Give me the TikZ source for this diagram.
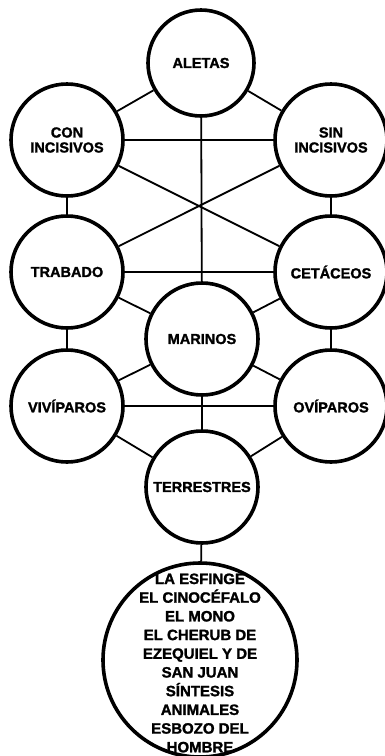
\documentclass[tikz,border=0pt]{standalone}
\usepackage{fontspec}
\setmainfont{Liberation Sans}[BoldFeatures={FakeBold=1.6}]
\begin{document}
\begin{tikzpicture}[
        x=1pt, y=-1pt,
        every node/.style={draw, circle, minimum size=112pt, inner sep=0pt, text centered, line width=3.6pt,
            font=\bfseries\fontsize{14.5}{15}\selectfont, align=center},
        plain/.style={draw=none, rectangle, minimum size=0pt},
        link/.style={draw, line width=1.8pt},
    ]
    \useasboundingbox (0,0) rectangle (385,756);

    \node[minimum size=106pt](aletas) at (201,63) {ALETAS};
    \node(con) at (67,140) {CON\\INCISIVOS};
    \node(sin) at (331,140) {SIN\\INCISIVOS};
    \node(trabado) at (67,272) {TRABADO};
    \node(cetaceos) at (331,272) {CETÁCEOS};
    \node(marinos) at (202,339) {MARINOS};
    \node(viviparos) at (67,406) {VIVÍPAROS};
    \node(oviparos) at (331,406) {OVÍPAROS};
    \node(terrestres) at (202,487) {TERRESTRES};
    \node[minimum size=194pt](esfinge) at (200,660) {};
    \node[plain, font=\bfseries\fontsize{15}{18.7}\selectfont](esfingetxt) at (200,663)
        {LA ESFINGE\\EL CINOCÉFALO\\EL MONO\\EL CHERUB DE\\EZEQUIEL Y DE\\SAN JUAN\\SÍNTESIS\\ANIMALES\\ESBOZO DEL\\HOMBRE};

    \draw[link] (aletas) -- (con);
    \draw[link] (aletas) -- (sin);
    \draw[link] (aletas) -- (marinos);
    \draw[link] (con) -- (sin);
    \draw[link] (con) -- (cetaceos);
    \draw[link] (sin) -- (trabado);
    \draw[link] (con) -- (trabado);
    \draw[link] (sin) -- (cetaceos);
    \draw[link] (trabado) -- (cetaceos);
    \draw[link] (trabado) -- (marinos);
    \draw[link] (cetaceos) -- (marinos);
    \draw[link] (trabado) -- (viviparos);
    \draw[link] (cetaceos) -- (oviparos);
    \draw[link] (marinos) -- (viviparos);
    \draw[link] (marinos) -- (oviparos);
    \draw[link] (viviparos) -- (oviparos);
    \draw[link] (marinos) -- (terrestres);
    \draw[link] (viviparos) -- (terrestres);
    \draw[link] (oviparos) -- (terrestres);
    \draw[link] (terrestres) -- (esfinge);

\end{tikzpicture}
\end{document}
